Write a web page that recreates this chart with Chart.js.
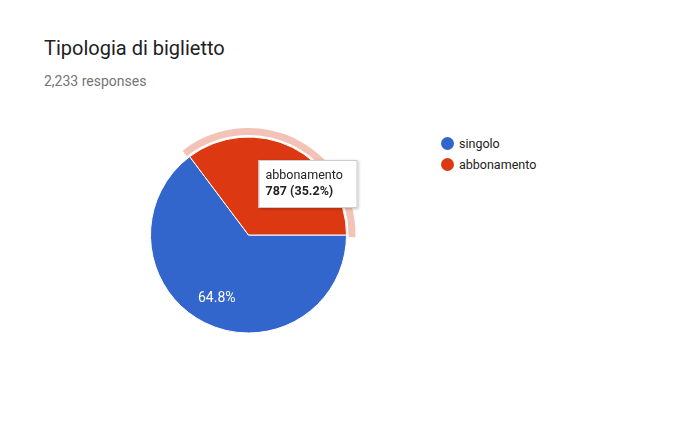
<!DOCTYPE html>
<html>
<head>
<meta charset="utf-8">
<script src="https://cdn.jsdelivr.net/npm/chart.js@4"></script>
<style>
  body { margin: 0; background: #fff; font-family: Roboto, Arial, sans-serif; }
  #wrap { position: relative; width: 698px; height: 436px; }
  #title { position: absolute; left: 44px; top: 36px; font-size: 20px; color: #202124; }
  #sub { position: absolute; left: 44px; top: 73px; font-size: 14px; color: #757575; }
  #legend { position: absolute; left: 441px; top: 133px; font-size: 12.5px; color: #222; }
  #legend div { height: 21px; display: flex; align-items: center; }
  #legend span.dot { width: 13px; height: 13px; border-radius: 50%; margin-right: 5px; display: inline-block; }
  canvas { position: absolute; left: 0; top: 0; }
</style>
</head>
<body>
<div id="wrap">
  <div id="title">Tipologia di biglietto</div>
  <div id="sub">2,233 responses</div>
  <div id="legend"></div>
  <canvas id="chart1" width="698" height="436"></canvas>
</div>
<script>
const labels = ['singolo', 'abbonamento'];
const counts = [1446, 787];
const colors = ['#3366CC', '#DC3912'];
const total = counts.reduce((a, b) => a + b, 0);

// legend
const legend = document.getElementById('legend');
labels.forEach((l, i) => {
  const row = document.createElement('div');
  row.innerHTML = '<span class="dot" style="background:' + colors[i] + '"></span>' + l;
  legend.appendChild(row);
});

const ctx = document.getElementById('chart1').getContext('2d');

new Chart(ctx, {
  type: 'pie',
  data: {
    labels: labels,
    datasets: [{
      data: counts,
      backgroundColor: colors,
      borderColor: '#ffffff',
      borderWidth: 1,
      hoverOffset: 0
    }]
  },
  options: {
    responsive: false,
    animation: false,
    rotation: 90,
    events: [],
    layout: { padding: { left: 150, right: 351, top: 136.5, bottom: 102.5 } },
    plugins: {
      legend: { display: false },
      tooltip: { enabled: false }
    }
  },
  plugins: [{
    id: 'extras',
    beforeDatasetsDraw(chart) {
      // highlight ring round the hovered slice
      const arc = chart.getDatasetMeta(0).data[1];
      const c = chart.ctx;
      c.save();
      c.strokeStyle = 'rgba(220,57,18,0.3)';
      c.lineWidth = 7;
      c.beginPath();
      c.arc(arc.x, arc.y, arc.outerRadius + 5.5, arc.startAngle - 0.02, arc.endAngle + 0.02);
      c.stroke();
      c.restore();
    },
    afterDatasetsDraw(chart) {
      const c = chart.ctx;
      const meta = chart.getDatasetMeta(0);
      // percentage label on the big slice
      const a0 = meta.data[0];
      const mid = (a0.startAngle + a0.endAngle) / 2;
      const r = a0.outerRadius * 0.725;
      c.save();
      c.fillStyle = '#ffffff';
      c.font = '14px Roboto';
      c.textAlign = 'center';
      c.textBaseline = 'middle';
      c.fillText((counts[0] / total * 100).toFixed(1) + '%', a0.x + Math.cos(mid) * r, a0.y + Math.sin(mid) * r);

      // tooltip for abbonamento
      const a1 = meta.data[1];
      const tx = a1.x + 10, ty = a1.y - 75, tw = 99, th = 48;
      c.shadowColor = 'rgba(0,0,0,0.25)';
      c.shadowBlur = 3;
      c.shadowOffsetX = 1;
      c.shadowOffsetY = 1;
      c.fillStyle = '#ffffff';
      c.fillRect(tx, ty, tw, th);
      c.shadowColor = 'transparent';
      c.strokeStyle = '#cccccc';
      c.lineWidth = 1;
      c.strokeRect(tx + 0.5, ty + 0.5, tw - 1, th - 1);
      c.fillStyle = '#222222';
      c.textAlign = 'left';
      c.font = '12.5px Roboto';
      c.fillText(labels[1], tx + 7, ty + 16);
      c.font = 'bold 12.5px Roboto';
      c.fillText(counts[1] + ' (' + (counts[1] / total * 100).toFixed(1) + '%)', tx + 7, ty + 32);
      c.restore();
    }
  }]
});
</script>
</body>
</html>
